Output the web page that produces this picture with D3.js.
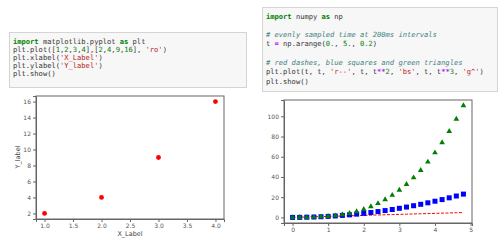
<!DOCTYPE html>
<html>
<head>
<meta charset="utf-8">
<script src="https://cdn.jsdelivr.net/npm/d3@7"></script>
<style>
  body { margin: 0; background: #fff; }
  .code { font-family: "DejaVu Sans Mono", monospace; font-size: 7.1px; }
  .kw { fill: #008000; font-weight: bold; }
  .nm { fill: #333; }
  .st { fill: #BA2121; }
  .nu { fill: #008000; }
  .cm { fill: #408080; font-style: italic; }
  .op { fill: #AA22FF; font-weight: bold; }
  .axis text { font-family: "DejaVu Sans", sans-serif; font-size: 6px; fill: #555; }
  .axis path, .axis line { stroke: #666; }
  .lbl { font-family: "DejaVu Sans", sans-serif; font-size: 6.5px; fill: #444; }
</style>
</head>
<body>
<svg id="chart" width="500" height="250"></svg>
<script>
/* code cells */
var code1 = [
  [['import', 'kw'], [' matplotlib.pyplot ', 'nm'], ['as', 'kw'], [' plt', 'nm']],
  [['plt.plot([', 'nm'], ['1', 'nu'], [',', 'nm'], ['2', 'nu'], [',', 'nm'], ['3', 'nu'], [',', 'nm'], ['4', 'nu'],
   ['],[', 'nm'], ['2', 'nu'], [',', 'nm'], ['4', 'nu'], [',', 'nm'], ['9', 'nu'], [',', 'nm'], ['16', 'nu'], ['], ', 'nm'], ["'ro'", 'st'], [')', 'nm']],
  [['plt.xlabel(', 'nm'], ["'X_Label'", 'st'], [')', 'nm']],
  [['plt.ylabel(', 'nm'], ["'Y_label'", 'st'], [')', 'nm']],
  [['plt.show()', 'nm']]
];
var code2 = [
  [['import', 'kw'], [' numpy ', 'nm'], ['as', 'kw'], [' np', 'nm']],
  [],
  [['# evenly sampled time at 200ms intervals', 'cm']],
  [['t ', 'nm'], ['=', 'op'], [' np.arange(', 'nm'], ['0.', 'nu'], [', ', 'nm'], ['5.', 'nu'], [', ', 'nm'], ['0.2', 'nu'], [')', 'nm']],
  [],
  [['# red dashes, blue squares and green triangles', 'cm']],
  [['plt.plot(t, t, ', 'nm'], ["'r--'", 'st'], [', t, t', 'nm'], ['**', 'op'], ['2', 'nu'], [', ', 'nm'], ["'bs'", 'st'],
   [', t, t', 'nm'], ['**', 'op'], ['3', 'nu'], [', ', 'nm'], ["'g^'", 'st'], [')', 'nm']],
  [['plt.show()', 'nm']]
];

/* data chart 1 */
var xs1 = [1, 2, 3, 4];
var ys1 = [2, 4, 9, 16];
var xTicks1 = [1.0, 1.5, 2.0, 2.5, 3.0, 3.5, 4.0];
var yTicks1 = [2, 4, 6, 8, 10, 12, 14, 16];

/* data chart 2 */
var t = [0, 0.2, 0.4, 0.6, 0.8, 1.0, 1.2, 1.4, 1.6, 1.8, 2.0, 2.2, 2.4, 2.6, 2.8, 3.0, 3.2, 3.4, 3.6, 3.8, 4.0, 4.2, 4.4, 4.6, 4.8];
var tSq = [0, 0.04, 0.16, 0.36, 0.64, 1, 1.44, 1.96, 2.56, 3.24, 4, 4.84, 5.76, 6.76, 7.84, 9, 10.24, 11.56, 12.96, 14.44, 16, 17.64, 19.36, 21.16, 23.04];
var tCu = [0, 0.008, 0.064, 0.216, 0.512, 1, 1.728, 2.744, 4.096, 5.832, 8, 10.648, 13.824, 17.576, 21.952, 27, 32.768, 39.304, 46.656, 54.872, 64, 74.088, 85.184, 97.336, 110.592];
var xTicks2 = [0, 1, 2, 3, 4, 5];
var yTicks2 = [0, 20, 40, 60, 80, 100];

var svg = d3.select('#chart');

var drawCode = function(lines, box, x0, y0, lh) {
  svg.append('rect')
    .attr('x', box[0] + 0.5).attr('y', box[1] + 0.5)
    .attr('width', box[2]).attr('height', box[3])
    .attr('fill', '#f7f7f7').attr('stroke', '#d4d4d4');
  lines.forEach(function(toks, i) {
    var tx = svg.append('text').attr('class', 'code')
      .attr('x', x0).attr('y', y0 + i * lh)
      .attr('xml:space', 'preserve');
    toks.forEach(function(tk) {
      tx.append('tspan').attr('class', tk[1]).text(tk[0]);
    });
  });
};

drawCode(code1, [9, 32, 237, 55], 13, 44, 8);
drawCode(code2, [262, 7, 235, 84], 266, 18.5, 9.3);

/* chart 1 */
var x1 = d3.scaleLinear().domain([0.85, 4.15]).range([36, 224]);
var y1 = d3.scaleLinear().domain([1.3, 16.7]).range([219, 96]);

svg.append('g').attr('class', 'axis').attr('transform', 'translate(0,219)')
  .call(d3.axisBottom(x1).tickValues(xTicks1).tickFormat(d3.format('.1f')).tickSize(3).tickPadding(2));
svg.append('g').attr('class', 'axis').attr('transform', 'translate(36,0)')
  .call(d3.axisLeft(y1).tickValues(yTicks1).tickFormat(d3.format('d')).tickSize(3).tickPadding(2));
svg.append('rect').attr('x', 36).attr('y', 96).attr('width', 188).attr('height', 123)
  .attr('fill', 'none').attr('stroke', '#666');

svg.selectAll('.dot1').data(xs1).enter().append('circle')
  .attr('cx', function(d) { return x1(d); })
  .attr('cy', function(d, i) { return y1(ys1[i]); })
  .attr('r', 2.4).attr('fill', '#ff0000');

svg.append('text').attr('class', 'lbl').attr('x', 130).attr('y', 236)
  .attr('text-anchor', 'middle').text('X_Label');
svg.append('text').attr('class', 'lbl')
  .attr('transform', 'translate(20,157) rotate(-90)')
  .attr('text-anchor', 'middle').text('Y_label');

/* chart 2 */
var x2 = d3.scaleLinear().domain([-0.24, 5.04]).range([284, 472]);
var y2 = d3.scaleLinear().domain([-5.53, 116.12]).range([223, 100]);

svg.append('g').attr('class', 'axis').attr('transform', 'translate(0,223)')
  .call(d3.axisBottom(x2).tickValues(xTicks2).tickFormat(d3.format('d')).tickSize(3).tickPadding(2));
svg.append('g').attr('class', 'axis').attr('transform', 'translate(284,0)')
  .call(d3.axisLeft(y2).tickValues(yTicks2).tickFormat(d3.format('d')).tickSize(3).tickPadding(2));
svg.append('rect').attr('x', 284).attr('y', 100).attr('width', 188).attr('height', 123)
  .attr('fill', 'none').attr('stroke', '#666');

var line = d3.line()
  .x(function(d) { return x2(d); })
  .y(function(d) { return y2(d); });
svg.append('path').datum(t).attr('d', line)
  .attr('fill', 'none').attr('stroke', '#ff0000').attr('stroke-width', 1)
  .attr('stroke-dasharray', '3,1.5');

svg.selectAll('.sq').data(t).enter().append('rect')
  .attr('x', function(d) { return x2(d) - 2.5; })
  .attr('y', function(d, i) { return y2(tSq[i]) - 2.5; })
  .attr('width', 5).attr('height', 5).attr('fill', '#0000ff');

var tri = d3.symbol().type(d3.symbolTriangle).size(14);
svg.selectAll('.tri').data(t).enter().append('path')
  .attr('d', tri)
  .attr('transform', function(d, i) { return 'translate(' + x2(d) + ',' + y2(tCu[i]) + ')'; })
  .attr('fill', '#008000');
</script>
</body>
</html>
